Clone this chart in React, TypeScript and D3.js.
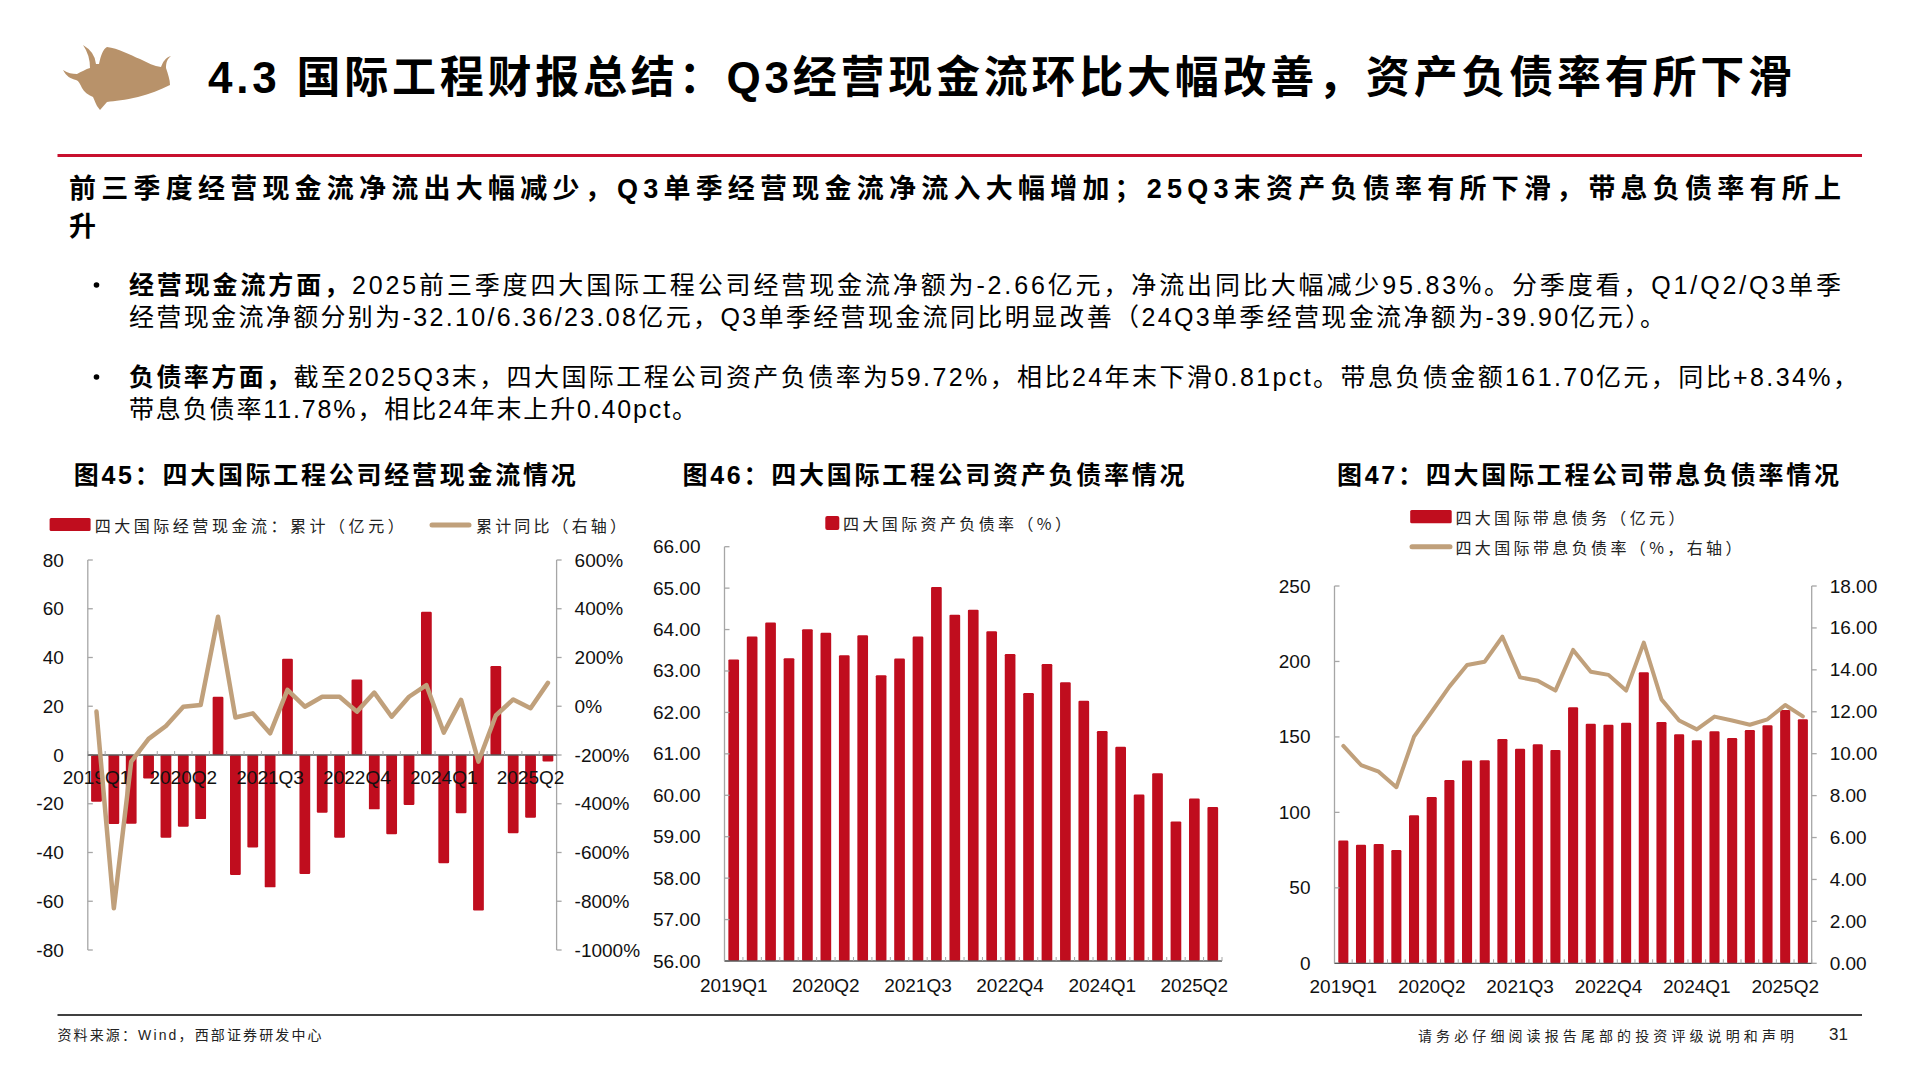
import React from 'react';
import * as d3 from 'd3';

// quarterly categories, 2019Q1 .. 2025Q3
const quarters = [
  '2019Q1', '2019Q2', '2019Q3', '2019Q4',
  '2020Q1', '2020Q2', '2020Q3', '2020Q4',
  '2021Q1', '2021Q2', '2021Q3', '2021Q4',
  '2022Q1', '2022Q2', '2022Q3', '2022Q4',
  '2023Q1', '2023Q2', '2023Q3', '2023Q4',
  '2024Q1', '2024Q2', '2024Q3', '2024Q4',
  '2025Q1', '2025Q2', '2025Q3',
];
const shownQuarters = ['2019Q1', '2020Q2', '2021Q3', '2022Q4', '2024Q1', '2025Q2'];

// 图45 operating cash flow, cumulative (亿元) and cumulative yoy (%)
const cashFlowCum = [
  -19.2, -28.3, -28.2, -9.6, -33.9, -29.4, -26.3, 23.9, -49.2, -37.9, -54.3, 39.5, -48.8, -23.7,
  -33.9, 31.0, -22.3, -32.5, -20.5, 58.8, -44.4, -23.9, -63.8, 36.5, -32.1, -25.74, -2.66,
];
const cashFlowYoY = [
  -22, -829, -227, -134, -81, -2, 5, 367, -46, -29, -111, 67, -2, 39, 39, -22, 56, -43, 39, 87,
  -108, 26, -227, -38, 28, -8, 95.83,
];
const cashLeftTicks = [-80, -60, -40, -20, 0, 20, 40, 60, 80];
const cashRightTicks = [-1000, -800, -600, -400, -200, 0, 200, 400, 600];

// 图46 asset-liability ratio (%)
const debtRatio = [
  63.28, 63.83, 64.17, 63.31, 64.01, 63.92, 63.38, 63.86, 62.9, 63.3, 63.83, 65.03, 64.36, 64.48,
  63.96, 63.41, 62.47, 63.17, 62.73, 62.28, 61.55, 61.17, 60.02, 60.53, 59.37, 59.92, 59.72,
];
const debtTicks = [56, 57, 58, 59, 60, 61, 62, 63, 64, 65, 66];

// 图47 interest-bearing debt (亿元) and its ratio (%)
const interestDebt = [
  81.3, 78.6, 79.1, 75.1, 98.1, 110.2, 121.5, 134.3, 134.5, 148.6, 142.2, 145.1, 141.4, 169.6,
  158.8, 158.1, 159.4, 192.8, 159.9, 151.7, 147.8, 153.7, 149.3, 154.6, 157.7, 167.9, 161.7,
];
const interestRatio = [
  10.37, 9.46, 9.14, 8.4, 10.81, 12.0, 13.2, 14.23, 14.39, 15.58, 13.64, 13.48, 13.01, 14.95,
  13.91, 13.76, 13.01, 15.3, 12.59, 11.58, 11.16, 11.77, 11.58, 11.38, 11.64, 12.32, 11.78,
];
const interestLeftTicks = [0, 50, 100, 150, 200, 250];
const interestRightTicks = [0, 2, 4, 6, 8, 10, 12, 14, 16, 18];

const RED = '#C00D1E';
const TAN = '#C0A07B';
const GOLD = '#B8926A';
const AXIS = '#A6A6A6';
const BASE = '#595959';
const CJK = '"Noto Sans CJK SC", sans-serif';
const SANS = '"Liberation Sans", Arial, "Noto Sans CJK SC", sans-serif';

type PanelProps = {
  left: number;
  right: number;
  top: number;
  bottom: number;
  pad: number;
  leftDomain: [number, number];
  leftTicks: number[];
  leftFmt: (v: number) => string;
  bars: number[];
  base: number;
  rightDomain?: [number, number];
  rightTicks?: number[];
  rightFmt?: (v: number) => string;
  line?: number[];
  lineWidth?: number;
  labelY: number;
};

function Panel(p: PanelProps) {
  const x = d3.scaleBand<string>()
    .domain(quarters)
    .range([p.left, p.right])
    .paddingInner(p.pad)
    .paddingOuter(p.pad / 2);
  const yL = d3.scaleLinear().domain(p.leftDomain).range([p.bottom, p.top]);
  const yR = p.rightDomain ? d3.scaleLinear().domain(p.rightDomain).range([p.bottom, p.top]) : null;
  const bw = x.bandwidth();
  const step = x.step();
  const cx = (i: number) => (x(quarters[i]) ?? 0) + bw / 2;
  const y0 = yL(p.base);

  let path: string | null = null;
  if (yR && p.line) {
    path = d3.line<number>()
      .x((_, i) => cx(i))
      .y((v) => yR(v))(p.line);
  }
  const bounds = d3.range(quarters.length + 1).map((i) => p.left + i * step);

  return (
    <g>
      {p.bars.map((v, i) => {
        const y1 = yL(v);
        return (
          <rect
            key={quarters[i]}
            x={x(quarters[i])}
            y={Math.min(y0, y1)}
            width={bw}
            height={Math.abs(y1 - y0)}
            fill={RED}
            rx={1.2}
          />
        );
      })}

      {/* left value axis */}
      <line x1={p.left} x2={p.left} y1={p.top} y2={p.bottom} stroke={AXIS} strokeWidth={1.3} />
      {p.leftTicks.map((t) => (
        <g key={'l' + t}>
          <line x1={p.left} x2={p.left + 5} y1={yL(t)} y2={yL(t)} stroke={AXIS} strokeWidth={1.3} />
          <text
            x={p.left - 24}
            y={yL(t)}
            textAnchor="end"
            dominantBaseline="central"
            fontFamily={SANS}
            fontSize={19}
            fill="#111"
          >
            {p.leftFmt(t)}
          </text>
        </g>
      ))}

      {/* right value axis */}
      {yR && p.rightTicks && (
        <g>
          <line x1={p.right} x2={p.right} y1={p.top} y2={p.bottom} stroke={AXIS} strokeWidth={1.3} />
          {p.rightTicks.map((t) => (
            <g key={'r' + t}>
              <line x1={p.right} x2={p.right + 5} y1={yR(t)} y2={yR(t)} stroke={AXIS} strokeWidth={1.3} />
              <text
                x={p.right + 18}
                y={yR(t)}
                dominantBaseline="central"
                fontFamily={SANS}
                fontSize={19}
                fill="#111"
              >
                {p.rightFmt ? p.rightFmt(t) : t}
              </text>
            </g>
          ))}
        </g>
      )}

      {/* category axis, small ticks pointing up at band edges */}
      <line x1={p.left} x2={p.right} y1={y0} y2={y0} stroke={BASE} strokeWidth={1.3} />
      {bounds.map((bx, i) => (
        <line key={'c' + i} x1={bx} x2={bx} y1={y0} y2={y0 - 4} stroke={AXIS} strokeWidth={1} />
      ))}
      {shownQuarters.map((q) => (
        <text
          key={q}
          x={cx(quarters.indexOf(q))}
          y={p.labelY}
          textAnchor="middle"
          dominantBaseline="central"
          fontFamily={SANS}
          fontSize={19}
          fill="#111"
        >
          {q}
        </text>
      ))}

      {path && (
        <path
          d={path}
          fill="none"
          stroke={TAN}
          strokeWidth={p.lineWidth ?? 4}
          strokeLinejoin="round"
          strokeLinecap="round"
        />
      )}
    </g>
  );
}

function Bull() {
  // company mark: a bull facing left, horns up and forward, tail flicked up
  return (
    <path
      fill={GOLD}
      d="M83 45 Q95 52 96 64 L99 64 C101 55 103 49 107 47 C118 48 130 55 140 59
         C148 63 154 66 161 67 C163 62 165 58 171 56 C167 59 166 63 166 68
         C168 74 170 80 170 85 C160 90 150 94 138 97 C125 100 115 101 107 102
         L100 110 L97 106 C95 102 94 99 93 97 C88 95 84 92 82 88 C80 84 79 81 76 80
         C71 79 66 76 63 70 C68 73 72 74 77 74 C81 72 86 69 90 68 Q90 55 83 45 Z"
    />
  );
}

const pct = (v: number) => `${v}%`;
const two = d3.format('.2f');

export default function App() {
  return (
    <svg
      width={1920}
      height={1080}
      viewBox="0 0 1920 1080"
      style={{ position: 'absolute', left: 0, top: 0, display: 'block', background: '#fff' }}
    >
      <rect width={1920} height={1080} fill="#fff" />

      {/* header */}
      <Bull />
      <text
        x={208}
        y={77}
        dominantBaseline="central"
        fontFamily={SANS}
        fontWeight="bold"
        fontSize={44}
        textLength={1584}
        lengthAdjust="spacing"
        fill="#000"
      >
        4.3 国际工程财报总结：Q3经营现金流环比大幅改善，资产负债率有所下滑
      </text>
      <line x1={57.5} x2={1862} y1={155.5} y2={155.5} stroke="#C8102E" strokeWidth={3} />

      {/* summary */}
      <text
        x={69}
        y={189}
        dominantBaseline="central"
        fontFamily={SANS}
        fontWeight="bold"
        fontSize={27}
        textLength={1772}
        lengthAdjust="spacing"
        fill="#000"
      >
        前三季度经营现金流净流出大幅减少，Q3单季经营现金流净流入大幅增加；25Q3末资产负债率有所下滑，带息负债率有所上
      </text>
      <text x={69} y={226.5} dominantBaseline="central" fontFamily={SANS} fontWeight="bold" fontSize={27} fill="#000">
        升
      </text>

      <circle cx={96.5} cy={285} r={2.8} fill="#000" />
      <text
        x={129}
        y={285}
        dominantBaseline="central"
        fontFamily={SANS}
        fontSize={25}
        textLength={1712}
        lengthAdjust="spacing"
        fill="#000"
      >
        <tspan fontWeight="bold">经营现金流方面，</tspan>
        2025前三季度四大国际工程公司经营现金流净额为-2.66亿元，净流出同比大幅减少95.83%。分季度看，Q1/Q2/Q3单季
      </text>
      <text
        x={129}
        y={316.5}
        dominantBaseline="central"
        fontFamily={SANS}
        fontSize={25}
        textLength={1536}
        lengthAdjust="spacing"
        fill="#000"
      >
        经营现金流净额分别为-32.10/6.36/23.08亿元，Q3单季经营现金流同比明显改善（24Q3单季经营现金流净额为-39.90亿元）。
      </text>

      <circle cx={96.5} cy={377} r={2.8} fill="#000" />
      <text
        x={129}
        y={377}
        dominantBaseline="central"
        fontFamily={SANS}
        fontSize={25}
        textLength={1729}
        lengthAdjust="spacing"
        fill="#000"
      >
        <tspan fontWeight="bold">负债率方面，</tspan>
        截至2025Q3末，四大国际工程公司资产负债率为59.72%，相比24年末下滑0.81pct。带息负债金额161.70亿元，同比+8.34%，
      </text>
      <text
        x={129}
        y={409}
        dominantBaseline="central"
        fontFamily={SANS}
        fontSize={25}
        textLength={568}
        lengthAdjust="spacing"
        fill="#000"
      >
        带息负债率11.78%，相比24年末上升0.40pct。
      </text>

      {/* chart titles */}
      {[
        { x: 73.7, t: '图45：四大国际工程公司经营现金流情况' },
        { x: 682.5, t: '图46：四大国际工程公司资产负债率情况' },
        { x: 1337, t: '图47：四大国际工程公司带息负债率情况' },
      ].map((d) => (
        <text
          key={d.t}
          x={d.x}
          y={475}
          dominantBaseline="central"
          fontFamily={SANS}
          fontWeight="bold"
          fontSize={25}
          textLength={502}
          lengthAdjust="spacing"
          fill="#000"
        >
          {d.t}
        </text>
      ))}

      {/* legends */}
      <rect x={49.6} y={518} width={41} height={13} fill={RED} rx={1.5} />
      <text x={94.7} y={525} dominantBaseline="central" fontFamily={CJK} fontSize={16} textLength={309}
        lengthAdjust="spacing" fill="#222">
        四大国际经营现金流：累计（亿元）
      </text>
      <line x1={432} x2={469} y1={525} y2={525} stroke={TAN} strokeWidth={5} strokeLinecap="round" />
      <text x={476} y={525} dominantBaseline="central" fontFamily={CJK} fontSize={16} textLength={150}
        lengthAdjust="spacing" fill="#222">
        累计同比（右轴）
      </text>

      <rect x={825.3} y={516} width={14} height={14} fill={RED} rx={2} />
      <text x={843} y={523} dominantBaseline="central" fontFamily={CJK} fontSize={16} textLength={228}
        lengthAdjust="spacing" fill="#222">
        四大国际资产负债率（%）
      </text>

      <rect x={1410.2} y={510} width={41.5} height={13.3} fill={RED} rx={1.5} />
      <text x={1455.4} y={516.7} dominantBaseline="central" fontFamily={CJK} fontSize={16} textLength={229}
        lengthAdjust="spacing" fill="#222">
        四大国际带息债务（亿元）
      </text>
      <line x1={1412} x2={1450} y1={546.7} y2={546.7} stroke={TAN} strokeWidth={5} strokeLinecap="round" />
      <text x={1455.4} y={546.7} dominantBaseline="central" fontFamily={CJK} fontSize={16} textLength={286}
        lengthAdjust="spacing" fill="#222">
        四大国际带息负债率（%，右轴）
      </text>

      {/* 图45 */}
      <Panel
        left={87.8}
        right={556.6}
        top={560}
        bottom={950}
        pad={0.38}
        leftDomain={[-80, 80]}
        leftTicks={cashLeftTicks}
        leftFmt={(v) => String(v)}
        bars={cashFlowCum}
        base={0}
        rightDomain={[-1000, 600]}
        rightTicks={cashRightTicks}
        rightFmt={pct}
        line={cashFlowYoY}
        lineWidth={4.5}
        labelY={777}
      />

      {/* 图46 */}
      <Panel
        left={724.5}
        right={1222}
        top={546.7}
        bottom={961}
        pad={0.42}
        leftDomain={[56, 66]}
        leftTicks={debtTicks}
        leftFmt={two}
        bars={debtRatio}
        base={56}
        labelY={985}
      />

      {/* 图47 */}
      <Panel
        left={1334.5}
        right={1811.7}
        top={586}
        bottom={963.3}
        pad={0.43}
        leftDomain={[0, 250]}
        leftTicks={interestLeftTicks}
        leftFmt={(v) => String(v)}
        bars={interestDebt}
        base={0}
        rightDomain={[0, 18]}
        rightTicks={interestRightTicks}
        rightFmt={two}
        line={interestRatio}
        lineWidth={4}
        labelY={986.5}
      />

      {/* footer */}
      <line x1={57.5} x2={1862} y1={1015} y2={1015} stroke="#404040" strokeWidth={2} />
      <text x={57.5} y={1034.5} dominantBaseline="central" fontFamily={SANS} fontSize={14} textLength={264}
        lengthAdjust="spacing" fill="#222">
        资料来源：Wind，西部证券研发中心
      </text>
      <text x={1418} y={1034.5} dominantBaseline="central" fontFamily={CJK} fontSize={14} textLength={376}
        lengthAdjust="spacing" fill="#222">
        请务必仔细阅读报告尾部的投资评级说明和声明
      </text>
      <text x={1829} y={1034.5} dominantBaseline="central" fontFamily={SANS} fontSize={17} fill="#222">
        31
      </text>
    </svg>
  );
}
